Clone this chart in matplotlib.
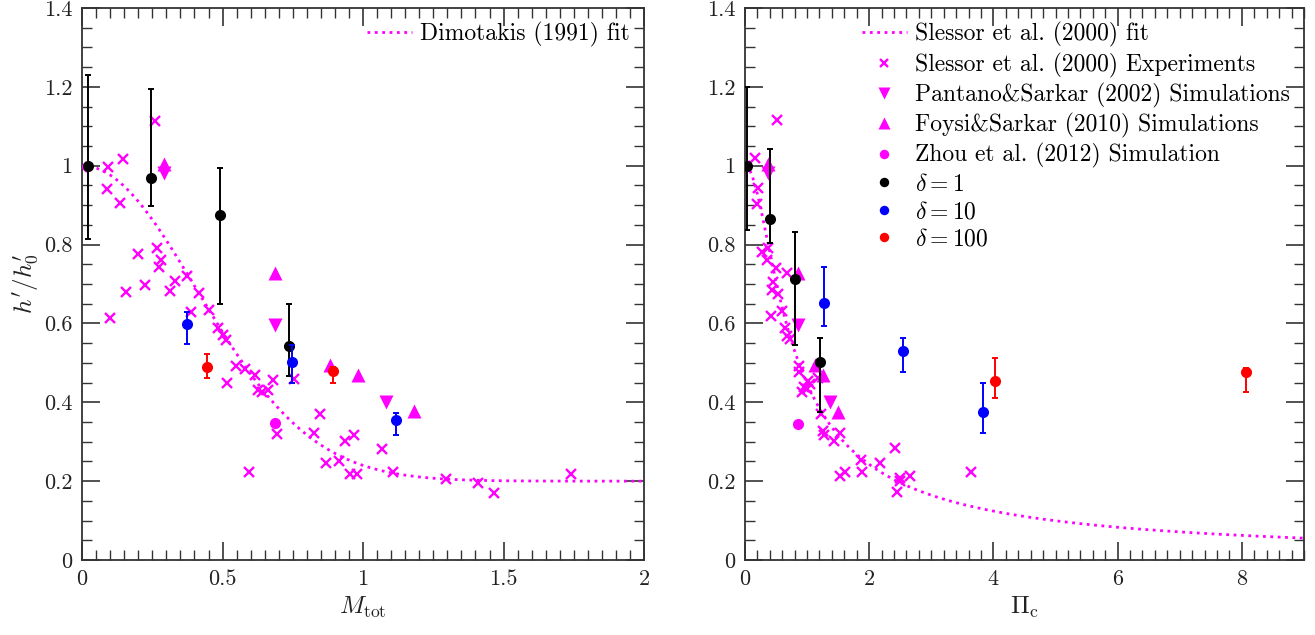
import numpy as np
import matplotlib
matplotlib.use("Agg")
import matplotlib.pyplot as plt
from matplotlib.ticker import MultipleLocator, FuncFormatter

plt.rcParams['font.family'] = 'cmr10'
plt.rcParams['mathtext.fontset'] = 'cm'
plt.rcParams['axes.formatter.use_mathtext'] = True

MAG = '#ff00ff'

# ---- left panel: convective Mach number ----
m_exp = [0.0, 0.093, 0.145, 0.09, 0.135, 0.10, 0.26, 0.20, 0.268, 0.28, 0.275, 0.157,
         0.225, 0.313, 0.331, 0.373, 0.416, 0.387, 0.45, 0.485, 0.503, 0.512, 0.548,
         0.58, 0.616, 0.517, 0.627, 0.64, 0.66, 0.679, 0.754, 0.695, 0.847, 0.826,
         0.936, 0.968, 0.868, 0.916, 0.954, 0.98, 1.067, 1.106, 0.595, 1.295, 1.41,
         1.466, 1.739]
h_exp_m = [0.997, 0.997, 1.018, 0.94, 0.905, 0.614, 1.114, 0.777, 0.792, 0.76, 0.744,
           0.68, 0.698, 0.683, 0.708, 0.721, 0.677, 0.628, 0.635, 0.588, 0.571, 0.558,
           0.492, 0.484, 0.47, 0.45, 0.431, 0.425, 0.43, 0.457, 0.459, 0.32, 0.37,
           0.323, 0.302, 0.317, 0.245, 0.252, 0.217, 0.217, 0.281, 0.222, 0.222,
           0.205, 0.196, 0.169, 0.218]

m_pantano = [0.293, 0.687, 1.081]
h_pantano_m = [0.981, 0.596, 0.402]
m_foysi = [0.293, 0.687, 0.883, 0.981, 1.181]
h_foysi_m = [1.004, 0.728, 0.495, 0.47, 0.378]
m_zhou = [0.687]
h_zhou_m = [0.347]

m_d1 = [0.022, 0.246, 0.492, 0.737]
h_d1_m = [1.0, 0.969, 0.876, 0.543]
lo_d1_m = [0.185, 0.07, 0.226, 0.076]
hi_d1_m = [0.23, 0.226, 0.118, 0.107]

m_d10 = [0.373, 0.746, 1.117]
h_d10_m = [0.598, 0.501, 0.354]
lo_d10_m = [0.05, 0.053, 0.037]
hi_d10_m = [0.03, 0.045, 0.02]

m_d100 = [0.446, 0.892]
h_d100_m = [0.49, 0.48]
lo_d100_m = [0.029, 0.032]
hi_d100_m = [0.032, 0.01]

# ---- right panel: compressibility parameter ----
p_exp = [0.0, 0.16, 0.52, 0.215, 0.188, 0.376, 0.28, 0.36, 0.5, 0.672, 0.457, 0.43,
         0.537, 0.42, 0.59, 0.645, 0.683, 0.726, 0.876, 0.876, 1.02, 0.95, 0.914,
         0.995, 1.05, 1.18, 1.22, 1.26, 1.27, 1.44, 1.53, 1.53, 1.61, 1.866, 1.88,
         2.17, 2.41, 2.49, 2.49, 2.44, 2.66, 3.64]
h_exp_p = [1.0, 1.02, 1.117, 0.943, 0.904, 0.791, 0.78, 0.761, 0.74, 0.728, 0.704,
           0.684, 0.675, 0.618, 0.632, 0.588, 0.569, 0.56, 0.492, 0.478, 0.455, 0.438,
           0.427, 0.433, 0.447, 0.461, 0.37, 0.326, 0.317, 0.303, 0.321, 0.213, 0.224,
           0.254, 0.222, 0.245, 0.283, 0.207, 0.2, 0.172, 0.214, 0.222]

p_pantano = [0.366, 0.86, 1.37]
h_pantano_p = [0.981, 0.596, 0.402]
p_foysi = [0.366, 0.86, 1.13, 1.26, 1.495]
h_foysi_p = [1.004, 0.728, 0.495, 0.47, 0.376]
p_zhou = [0.86]
h_zhou_p = [0.345]

p_d1 = [0.04, 0.403, 0.806, 1.21]
h_d1_p = [1.0, 0.865, 0.713, 0.501]
lo_d1_p = [0.163, 0.061, 0.167, 0.125]
hi_d1_p = [0.2, 0.178, 0.118, 0.062]

p_d10 = [1.274, 2.543, 3.83]
h_d10_p = [0.653, 0.529, 0.375]
lo_d10_p = [0.059, 0.051, 0.052]
hi_d10_p = [0.09, 0.034, 0.073]

p_d100 = [4.02, 8.06]
h_d100_p = [0.453, 0.478]
lo_d100_p = [0.041, 0.051]
hi_d100_p = [0.06, 0.01]

# fit coefficients
dim_floor, dim_amp, dim_k = 0.2, 0.8, 3.0   # Dimotakis (1991)
sles_k = 4.0                                # Slessor et al. (2000)

TXT = '#222222'


def style_axes(ax, xmax, xmajor, xminor, xlabel):
    ax.set_xlim(0, xmax)
    ax.set_ylim(0, 1.4)
    ax.xaxis.set_major_locator(MultipleLocator(xmajor))
    ax.xaxis.set_minor_locator(MultipleLocator(xminor))
    ax.yaxis.set_major_locator(MultipleLocator(0.2))
    ax.yaxis.set_minor_locator(MultipleLocator(0.05))
    fmt = FuncFormatter(lambda v, p: '%g' % round(v, 6))
    ax.xaxis.set_major_formatter(fmt)
    ax.yaxis.set_major_formatter(fmt)
    ax.tick_params(which='both', direction='in', top=True, right=True,
                   color='#333333', labelsize=16, labelcolor=TXT)
    ax.tick_params(which='major', length=13, width=1.2, pad=7)
    ax.tick_params(which='minor', length=7, width=1.0)
    for s in ax.spines.values():
        s.set_color('#333333')
        s.set_linewidth(1.3)
    ax.set_xlabel(xlabel, fontsize=18, color=TXT, labelpad=4)


def draw_points(ax, x_exp, h_exp, x_pan, h_pan, x_foy, h_foy, x_zh, h_zh, groups):
    ax.plot(x_exp, h_exp, 'x', color=MAG, ms=6.5, mew=1.7,
            label='Slessor et al. (2000) Experiments', zorder=3)
    ax.plot(x_pan, h_pan, 'v', color=MAG, ms=9.5, mec='none',
            label='Pantano&Sarkar (2002) Simulations', zorder=4)
    ax.plot(x_foy, h_foy, '^', color=MAG, ms=9.5, mec='none',
            label='Foysi&Sarkar (2010) Simulations', zorder=4)
    ax.plot(x_zh, h_zh, 'o', color=MAG, ms=8, mec='none',
            label='Zhou et al. (2012) Simulation', zorder=4)
    z = 5
    for xs, hs, lo, hi, col, lab in groups:
        ax.errorbar(xs, hs, yerr=[lo, hi], fmt='none', ecolor=col,
                    elinewidth=1.4, capsize=2.5, capthick=1.4, zorder=z)
        ax.plot(xs, hs, 'o', color=col, ms=8, mec='none', label=lab, zorder=z + 0.5)
        z += 1


fig = plt.figure(figsize=(13.15, 6.35), dpi=100)
ax1 = fig.add_axes([0.0624, 0.1181, 0.4274, 0.8693])
ax2 = fig.add_axes([0.5665, 0.1181, 0.4251, 0.8693])

# left
mm = np.linspace(0, 2, 300)
ax1.plot(mm, dim_floor + dim_amp * np.exp(-dim_k * mm ** 2), ':', color=MAG, lw=2,
         label='Dimotakis (1991) fit', zorder=2)
draw_points(ax1, m_exp, h_exp_m, m_pantano, h_pantano_m, m_foysi, h_foysi_m,
            m_zhou, h_zhou_m,
            [(m_d1, h_d1_m, lo_d1_m, hi_d1_m, 'black', r'$\delta=1$'),
             (m_d10, h_d10_m, lo_d10_m, hi_d10_m, '#0000ff', r'$\delta=10$'),
             (m_d100, h_d100_m, lo_d100_m, hi_d100_m, '#ff0000', r'$\delta=100$')])
style_axes(ax1, 2, 0.5, 0.05, r'$M_{\rm tot}$')
ax1.set_ylabel(r"$h^{\prime}/h^{\prime}_0$", fontsize=18, color=TXT, labelpad=2)
h, l = ax1.get_legend_handles_labels()
ax1.legend(h[:1], l[:1], loc='upper right', frameon=False, fontsize=17,
           handlelength=1.9, handletextpad=0.35, borderaxespad=0.2)

# right
pp = np.linspace(0, 9, 300)
ax2.plot(pp, (1 + sles_k * pp ** 2) ** -0.5, ':', color=MAG, lw=2,
         label='Slessor et al. (2000) fit', zorder=2)
draw_points(ax2, p_exp, h_exp_p, p_pantano, h_pantano_p, p_foysi, h_foysi_p,
            p_zhou, h_zhou_p,
            [(p_d1, h_d1_p, lo_d1_p, hi_d1_p, 'black', r'$\delta=1$'),
             (p_d10, h_d10_p, lo_d10_p, hi_d10_p, '#0000ff', r'$\delta=10$'),
             (p_d100, h_d100_p, lo_d100_p, hi_d100_p, '#ff0000', r'$\delta=100$')])
style_axes(ax2, 9, 2, 0.2, r'$\Pi_{\rm c}$')
ax2.legend(loc='upper right', frameon=False, fontsize=17, handlelength=1.9,
           handletextpad=0.35, labelspacing=0.22, borderaxespad=0.2,
           markerscale=0.85)

fig.savefig('out.png', dpi=100)
